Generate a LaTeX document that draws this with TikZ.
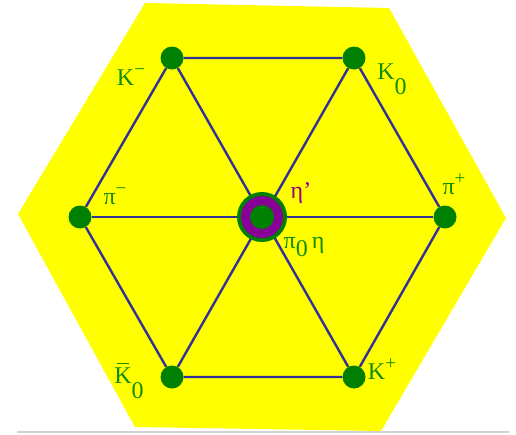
\documentclass[tikz,border=0pt]{standalone}
\usepackage{fontspec}
\setmainfont{Liberation Serif}
\usetikzlibrary{positioning, backgrounds}
\definecolor{hexyellow}{RGB}{255, 255, 0}
\definecolor{dotgreen}{RGB}{0, 128, 0}
\definecolor{labelgreen}{RGB}{20, 140, 0}
\definecolor{linenavy}{RGB}{50, 50, 150}
\definecolor{ringpurple}{RGB}{136, 0, 150}
\definecolor{etapurple}{RGB}{150, 0, 120}
\newcommand{\lowsub}[2][-0.62em]{\raisebox{#1}{#2}}
\newcommand{\highsup}[1]{\raisebox{0.42em}{\fontsize{19}{19}\selectfont #1}}
\newcommand{\barK}{\rlap{\hspace{0.1em}\rule[0.82em]{0.5em}{0.05em}}K}
\tikzset{
  meson/.style={circle, fill=dotgreen, minimum size=23pt, inner sep=0pt},
  octetline/.style={draw=linenavy, line width=2.4pt},
  mesonlbl/.style={font=\fontsize{24}{26}\selectfont, text=labelgreen, inner sep=0pt}
}
\begin{document}
\begin{tikzpicture}[x=1pt, y=-1pt]
    \useasboundingbox (0,0) rectangle (516,434);

    % Outer mesons of the octet
    \node[meson] (km) at (172,58) {};
    \node[meson] (kz) at (354,58) {};
    \node[meson] (pim) at (80,217) {};
    \node[meson] (pip) at (445,217) {};
    \node[meson] (kzb) at (172,377) {};
    \node[meson] (kp) at (354,377) {};

    % Centre: pi0, eta and eta'
    \node[circle, fill=dotgreen, minimum size=50pt, inner sep=0pt] (ctr) at (262,217) {};
    \node[circle, fill=ringpurple, minimum size=42pt, inner sep=0pt] (ctrring) at (ctr) {};
    \node[circle, fill=dotgreen, minimum size=24pt, inner sep=0pt] (ctrcore) at (ctr) {};

    % Background hexagon and lines
    \begin{scope}[on background layer]
        \fill[hexyellow] (145,3) -- (389,8) -- (506,218) -- (381,431) -- (135,427) -- (18,214) -- cycle;
        \draw[gray!35, line width=2pt] (17,431.5) -- (509,431.5);
        \draw[octetline] (km) -- (kz) -- (pip) -- (kp) -- (kzb) -- (pim) -- (km);
        \draw[octetline] (km) -- (kp);
        \draw[octetline] (kz) -- (kzb);
        \draw[octetline] (pim) -- (pip);
    \end{scope}

    % Labels
    \node[mesonlbl] (kmlbl) at (131,77) {K\highsup{−}};
    \node[mesonlbl] (kzlbl) at (392,79) {K\lowsub{0}};
    \node[mesonlbl] (pimlbl) at (115,196) {π\highsup{−}};
    \node[mesonlbl] (piplbl) at (454,184) {π\highsup{+}};
    \node[mesonlbl, text=etapurple] (etaplbl) at (301,193) {η'};
    \node[mesonlbl] (pizlbl) at (304,247) {π\lowsub[-0.3em]{0}\,η};
    \node[mesonlbl] (kzblbl) at (129,381) {\barK\lowsub{0}};
    \node[mesonlbl] (kplbl) at (382,369) {K\highsup{+}};
\end{tikzpicture}
\end{document}
